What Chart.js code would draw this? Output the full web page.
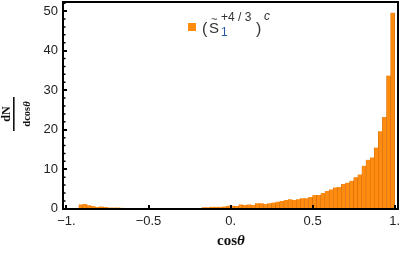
<!DOCTYPE html>
<html>
<head>
<meta charset="utf-8">
<script src="https://cdn.jsdelivr.net/npm/chart.js@4.4.1/dist/chart.umd.min.js"></script>
<style>
html,body{margin:0;padding:0;background:#fff;}
#wrap{width:402px;height:253px;position:relative;}
</style>
</head>
<body>
<div id="wrap"><canvas id="c" width="402" height="253"></canvas></div>
<script>
// bin centres of cos(theta) (width 0.025)
const binCenters = [
 -0.9875,-0.9625,-0.9375,-0.9125,-0.8875,-0.8625,-0.8375,-0.8125,-0.7875,-0.7625,
 -0.7375,-0.7125,-0.6875,-0.6625,-0.6375,-0.6125,-0.5875,-0.5625,-0.5375,-0.5125,
 -0.4875,-0.4625,-0.4375,-0.4125,-0.3875,-0.3625,-0.3375,-0.3125,-0.2875,-0.2625,
 -0.2375,-0.2125,-0.1875,-0.1625,-0.1375,-0.1125,-0.0875,-0.0625,-0.0375,-0.0125,
 0.0125,0.0375,0.0625,0.0875,0.1125,0.1375,0.1625,0.1875,0.2125,0.2375,
 0.2625,0.2875,0.3125,0.3375,0.3625,0.3875,0.4125,0.4375,0.4625,0.4875,
 0.5125,0.5375,0.5625,0.5875,0.6125,0.6375,0.6625,0.6875,0.7125,0.7375,
 0.7625,0.7875,0.8125,0.8375,0.8625,0.8875,0.9125,0.9375,0.9625,0.9875
];
// dN/dcos(theta) values
const dNdcos = [
 0,0,0,1.1,1.2,0.9,0.7,0.45,0.6,0.45,
 0.3,0.3,0.3,0.25,0,0,0,0,0,0,
 0,0,0,0,0,0,0,0.2,0.2,0,
 0.2,0.2,0.2,0.4,0.4,0.5,0.5,0.5,0.6,0.8,
 0.8,0.7,1.1,0.95,1.1,0.95,1.4,1.4,1.2,1.4,
 1.6,1.8,2.0,2.2,2.4,2.2,2.4,2.7,2.7,3.0,
 3.5,3.5,4.0,4.5,4.9,5.4,5.5,6.3,6.6,7.1,
 8.0,8.7,10.9,12.4,13.0,15.5,19.6,23.2,33.7,49.6
];
const xTicks = [-1,-0.5,0,0.5,1];
const xTickLabels = ['\u22121.','\u22120.5','0.','0.5','1.'];
const yTicks = [0,10,20,30,40,50];
const yMinorTicks = [2,4,6,8,12,14,16,18,22,24,26,28,32,34,36,38,42,44,46,48,52];
const seriesName = 'S';

const orange = '#ff8c0f';
const edge = '#cf6d0c';

const decor = {
  id:'decor',
  afterDatasetsDraw(chart){
    const ctx = chart.ctx, a = chart.chartArea;
    const xs = chart.scales.x, ys = chart.scales.y;
    ctx.save();
    // ticks
    ctx.strokeStyle = '#000';
    ctx.lineWidth = 2;
    ctx.beginPath();
    yTicks.forEach(v=>{const p=Math.round(ys.getPixelForValue(v)); ctx.moveTo(a.left,p); ctx.lineTo(a.left+4,p);});
    xTicks.forEach(v=>{const p=Math.round(xs.getPixelForValue(v)); ctx.moveTo(p,a.bottom); ctx.lineTo(p,a.bottom-4);});
    ctx.stroke();
    ctx.lineWidth = 1.5;
    ctx.beginPath();
    yMinorTicks.forEach(v=>{const p=ys.getPixelForValue(v); if(p>a.top+1){ctx.moveTo(a.left,p); ctx.lineTo(a.left+2.5,p);}});
    ctx.stroke();
    // frame
    ctx.lineWidth = 2;
    ctx.strokeRect(a.left, a.top, a.right-a.left, a.bottom-a.top);
    // x title
    ctx.fillStyle = '#111';
    ctx.textBaseline = 'middle';
    ctx.font = 'bold 15px "Liberation Serif"';
    const w1 = ctx.measureText('cos').width;
    ctx.font = 'bold italic 15px "Liberation Serif"';
    const w2 = ctx.measureText('\u03B8').width;
    const sx = 231 - (w1+w2)/2;
    ctx.textAlign='left';
    ctx.font = 'bold 15px "Liberation Serif"';
    ctx.fillText('cos', sx, 241);
    ctx.font = 'bold italic 15px "Liberation Serif"';
    ctx.fillText('\u03B8', sx+w1, 241);
    // y title (rotated fraction)
    ctx.save();
    ctx.translate(14, 114);
    ctx.rotate(-Math.PI/2);
    ctx.textAlign='center';
    ctx.font = 'bold 12px "Liberation Serif"';
    ctx.fillText('dN', 0, -7.5);
    ctx.fillRect(-17, -1, 34, 1.6);
    ctx.font = 'bold 10.5px "Liberation Serif"';
    const d1 = ctx.measureText('dcos').width;
    ctx.font = 'bold italic 10.5px "Liberation Serif"';
    const d2 = ctx.measureText('\u03B8').width;
    ctx.textAlign='left';
    ctx.font = 'bold 10.5px "Liberation Serif"';
    ctx.fillText('dcos', -(d1+d2)/2, 13);
    ctx.font = 'bold italic 10.5px "Liberation Serif"';
    ctx.fillText('\u03B8', -(d1+d2)/2+d1, 13);
    ctx.restore();
    // legend
    ctx.fillStyle = orange;
    ctx.fillRect(188, 23, 8, 8);
    ctx.fillStyle = '#333';
    ctx.textAlign='left';
    ctx.textBaseline='alphabetic';
    ctx.font = '16px "Liberation Sans"';
    ctx.fillText('(', 202, 34);
    ctx.fillText(')', 256, 34);
    ctx.font = '15px "Liberation Sans"';
    ctx.fillText(seriesName, 209, 33);
    ctx.font = '11px "Liberation Sans"';
    ctx.fillText('~', 211, 23);
    ctx.font = '12px "Liberation Sans"';
    ctx.fillText('+4 / 3', 221, 21);
    ctx.fillStyle = '#2b5aa8';
    ctx.fillText('1', 221, 36);
    ctx.fillStyle = '#333';
    ctx.font = 'italic 12px "Liberation Sans"';
    ctx.fillText('c', 264, 20);
    ctx.restore();
  }
};

new Chart(document.getElementById('c'), {
  type:'bar',
  data:{
    datasets:[{
      data: binCenters.map((x,i)=>({x:x, y:dNdcos[i]})),
      backgroundColor: orange,
      borderColor: edge,
      borderWidth: {left:0.6,right:0.6,top:0,bottom:0},
      borderSkipped: false,
      barPercentage:1,
      categoryPercentage:1
    }]
  },
  options:{
    responsive:false,
    animation:false,
    devicePixelRatio:1,
    layout:{padding:{left:0,right:4,top:2,bottom:0}},
    plugins:{legend:{display:false},tooltip:{enabled:false}},
    scales:{
      x:{
        type:'linear',
        min:-1.021, max:1.02,
        offset:false,
        grid:{display:false, drawTicks:false},
        border:{display:false},
        afterBuildTicks(s){ s.ticks = xTicks.map(v=>({value:v})); },
        afterFit(s){ s.height = 44; s.paddingLeft=0; s.paddingRight=0; s.paddingTop=0; s.paddingBottom=0; },
        ticks:{
          padding:5,
          color:'#222',
          font:{family:'"Liberation Sans"', size:13},
          callback:(v)=>{const i=xTicks.indexOf(v); return i>=0?xTickLabels[i]:'';},
          maxRotation:0, autoSkip:false
        }
      },
      y:{
        min:-0.05, max:52.3,
        grid:{display:false, drawTicks:false},
        border:{display:false},
        afterBuildTicks(s){ s.ticks = yTicks.map(v=>({value:v})); },
        afterFit(s){ s.width = 63; s.paddingLeft=0; s.paddingRight=0; s.paddingTop=0; s.paddingBottom=0; },
        ticks:{
          padding:5,
          color:'#222',
          font:{family:'"Liberation Sans"', size:13}
        }
      }
    }
  },
  plugins:[decor]
});
</script>
</body>
</html>
